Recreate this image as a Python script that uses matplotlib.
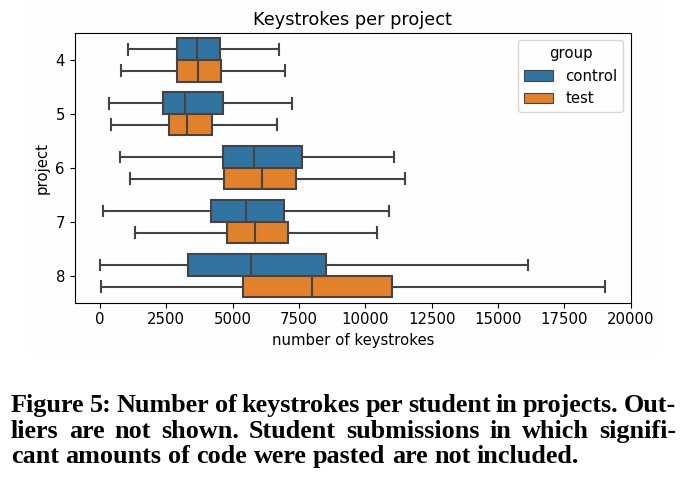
import matplotlib
matplotlib.use("Agg")
import matplotlib.pyplot as plt
from matplotlib.patches import Patch, Rectangle

projects = ["4", "5", "6", "7", "8"]
groups = ["control", "test"]
colors = {"control": "#3274a1", "test": "#e1812c"}
gray = "#444444"

# box stats: whisker low, q1, median, q3, whisker high
control_stats = [
    [1040, 2910, 3650, 4510, 6750],
    [330, 2360, 3200, 4650, 7240],
    [770, 4620, 5800, 7610, 11070],
    [130, 4170, 5520, 6940, 10890],
    [20, 3310, 5700, 8510, 16130],
]
test_stats = [
    [790, 2900, 3690, 4550, 6990],
    [430, 2620, 3280, 4240, 6670],
    [1140, 4660, 6090, 7390, 11480],
    [1330, 4770, 5850, 7080, 10430],
    [50, 5390, 8010, 11010, 19030],
]

caption_lines = [
    "Figure 5: Number of keystrokes per student in projects. Out-",
    "liers are not shown. Student submissions in which signifi-",
    "cant amounts of code were pasted are not included.",
]

plt.rcParams["font.size"] = 10.7

W, H = 696, 486
fig = plt.figure(figsize=(W / 100, H / 100), dpi=100)
fig.patches.append(Rectangle((28 / W, 1 - 353 / H), 632 / W, 353 / H,
                             transform=fig.transFigure, facecolor="#fefefe",
                             edgecolor="none", zorder=-5))
ax = fig.add_axes([74.7 / W, 1 - 302.7 / H, 556 / W, 269.7 / H])
ax.patch.set_alpha(0)


def to_bxp(rows):
    return [dict(whislo=r[0], q1=r[1], med=r[2], q3=r[3], whishi=r[4], fliers=[])
            for r in rows]


for g, rows, off in [("control", control_stats, -0.2), ("test", test_stats, 0.2)]:
    pos = [i + off for i in range(len(projects))]
    ax.bxp(to_bxp(rows), positions=pos, widths=0.4, capwidths=0.2, vert=False,
           patch_artist=True, showfliers=False,
           boxprops=dict(facecolor=colors[g], edgecolor=gray, linewidth=1.5),
           medianprops=dict(color=gray, linewidth=1.5),
           whiskerprops=dict(color=gray, linewidth=1.5),
           capprops=dict(color=gray, linewidth=1.5),
           manage_ticks=False)

ax.set_yticks(range(len(projects)))
ax.set_yticklabels(projects)
ax.set_ylim(len(projects) - 0.5, -0.5)
ax.set_xlim(-950, 20000)
ax.set_xticks(range(0, 20001, 2500))
ax.set_xlabel("number of keystrokes")
ax.set_ylabel("project")
ax.set_title("Keystrokes per project", fontsize=12.8)

handles = [Patch(facecolor=colors[g], edgecolor=gray, linewidth=0.8) for g in groups]
ax.legend(handles, groups, title="group", loc="upper right")

# justified caption, word by word
renderer = fig.canvas.get_renderer()
left_px, right_px = 11, 676
baselines = [412, 437.5, 463]
cap_font = dict(family="Liberation Serif", weight="bold", fontsize=18.8)


def text_width(s):
    t = fig.text(0, 0, s, **cap_font)
    w = t.get_window_extent(renderer).width
    t.remove()
    return w


space = text_width("a b") - text_width("ab")
for n, line in enumerate(caption_lines):
    words = line.split(" ")
    texts = [fig.text(0, 0, w, ha="left", va="baseline", **cap_font) for w in words]
    widths = [t.get_window_extent(renderer).width for t in texts]
    if n < len(caption_lines) - 1:
        gap = (right_px - left_px - sum(widths)) / (len(words) - 1)
    else:
        gap = space
    x = left_px
    for t, w in zip(texts, widths):
        t.set_position((x / W, 1 - baselines[n] / H))
        x += w + gap

fig.savefig("out.png", dpi=100)
